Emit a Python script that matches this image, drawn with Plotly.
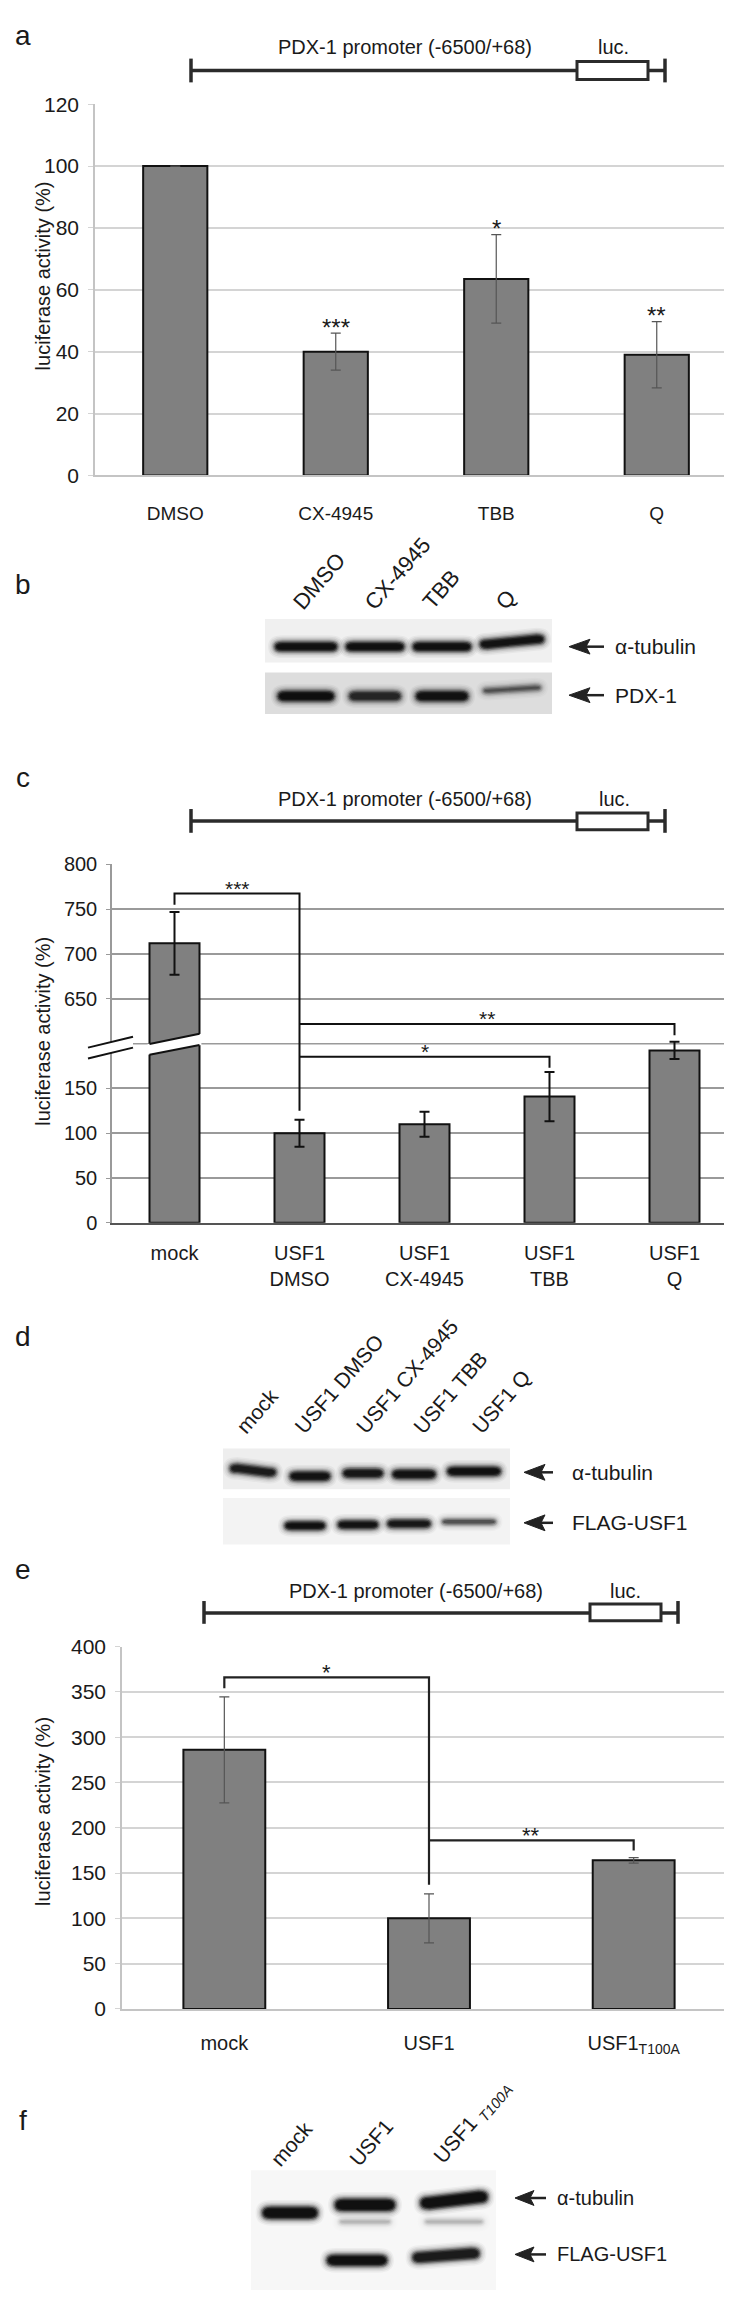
import math
import plotly.graph_objects as go

W, H = 732, 2300
def px(x): return x / W
def py(y): return 1 - y / H

# ---------------- data ----------------
a_cats = ["DMSO", "CX-4945", "TBB", "Q"]
a_vals = [100, 40, 63.5, 39]
a_errs = [None, 6, 14.3, 10.7]
a_sig = ["", "***", "*", "**"]
a_yticks = [0, 20, 40, 60, 80, 100, 120]

c_cats = ["mock", "USF1<br>DMSO", "USF1<br>CX-4945", "USF1<br>TBB", "USF1<br>Q"]
c_vals = [712, 100, 110, 141, 192.5]
c_errs = [35, 15, 14, 27.5, 9.5]
c_tickvals = [0, 50, 100, 150, 250, 300, 350, 400]
c_ticktext = ["0", "50", "100", "150", "650", "700", "750", "800"]
c_break_at = 200          # axis position of the break line
c_break_shift = 400       # values above the break are drawn shifted down by this amount
# brackets: (left idx, right idx, top, left end, right end, label)   [axis units]
c_brackets = [(0, 1, 367.6, 355, 125, "***"),
              (1, 4, 222, 222, 209.5, "**"),
              (1, 3, 185.4, 185.4, 173, "*")]

e_cats = ["mock", "USF1", "USF1<sub>T100A</sub>"]
e_vals = [286, 100, 164]
e_errs = [58.5, 27, 3]
e_yticks = [0, 50, 100, 150, 200, 250, 300, 350, 400]
e_brackets = [(0, 1, 366, 354, 137, "*"),
              (1, 2, 186, 186, 175, "**")]

# western blots: lane labels and band intensities (0..1)
b_lanes = ["DMSO", "CX-4945", "TBB", "Q"]
b_tubulin = [1.0, 1.0, 1.0, 0.95]
b_pdx1 = [1.0, 0.72, 0.95, 0.45]
d_lanes = ["mock", "USF1 DMSO", "USF1 CX-4945", "USF1 TBB", "USF1 Q"]
d_tubulin = [0.85, 0.95, 0.9, 0.95, 1.0]
d_flag = [0.0, 1.0, 0.95, 0.9, 0.6]
f_lanes = ["mock", "USF1", "USF1 <sub><i>T100A</i></sub>"]
f_tubulin = [1.0, 1.0, 1.0]
f_flag = [0.0, 1.0, 0.85]

def c_disp(v):
    return v - c_break_shift if v > 600 else v

FONT = "Liberation Sans, Arial, sans-serif"
NARROW = "Liberation Sans Narrow, Arial Narrow, Liberation Sans, sans-serif"
TXT = "#1a1a1a"

fig = go.Figure()
shapes = []
ann = []

# ---------------- panel a ----------------
fig.add_trace(go.Bar(x=a_cats, y=a_vals, width=0.4, xaxis="x", yaxis="y",
                     marker=dict(color="#808080", line=dict(color="#111", width=2)),
                     error_y=dict(type="data", array=a_errs, color="#555", thickness=1.2, width=5),
                     showlegend=False))
for i, s in enumerate(a_sig):
    if s:
        ann.append(dict(x=i, y=a_vals[i] + a_errs[i], xref="x", yref="y", text=s, showarrow=False,
                        yanchor="middle", yshift=6, font=dict(size=24, family=FONT, color=TXT)))

# ---------------- panel c ----------------
c_disp_vals = [c_disp(v) for v in c_vals]
shapes.append(dict(type="line", xref="x2 domain", yref="y2", layer="below",
                   x0=0, x1=1, y0=c_break_at, y1=c_break_at, line=dict(color="#9a9a9a", width=1.5)))
fig.add_trace(go.Bar(x=c_cats, y=c_disp_vals, width=0.4, xaxis="x2", yaxis="y2",
                     marker=dict(color="#808080", line=dict(color="#111", width=2)),
                     error_y=dict(type="data", array=c_errs, color="#111", thickness=2, width=5),
                     showlegend=False))
for (l, r, top, le, re_, lab) in c_brackets:
    fig.add_trace(go.Scatter(x=[c_cats[l], c_cats[l], c_cats[r], c_cats[r]], y=[le, top, top, re_],
                             mode="lines", line=dict(color="#111", width=2), xaxis="x2", yaxis="y2",
                             showlegend=False, hoverinfo="skip"))
    ann.append(dict(x=(l + r) / 2, y=top, xref="x2", yref="y2", text=lab, showarrow=False,
                    yanchor="middle", yshift=5, font=dict(size=21, family=FONT, color=TXT)))

# break on the mock bar (white gap)
def dpath(pts):
    return "M " + " L ".join(f"{x},{y}" for x, y in pts) + " Z"
shapes.append(dict(type="path", xref="x2", yref="y2", layer="above",
                   path=dpath([(-0.215, 187.6), (0.215, 198.6), (0.215, 211), (-0.215, 199.6)]),
                   fillcolor="white", line=dict(width=0)))
for y0, y1 in [(187.6, 198.6), (199.6, 211)]:
    shapes.append(dict(type="line", xref="x2", yref="y2", layer="above",
                       x0=-0.2, x1=0.2, y0=y0, y1=y1, line=dict(color="#111", width=2)))

# ---------------- panel e ----------------
fig.add_trace(go.Bar(x=e_cats, y=e_vals, width=0.4, xaxis="x3", yaxis="y3",
                     marker=dict(color="#808080", line=dict(color="#111", width=2)),
                     error_y=dict(type="data", array=e_errs, color="#555", thickness=1.2, width=5),
                     showlegend=False))
for (l, r, top, le, re_, lab) in e_brackets:
    fig.add_trace(go.Scatter(x=[e_cats[l], e_cats[l], e_cats[r], e_cats[r]], y=[le, top, top, re_],
                             mode="lines", line=dict(color="#222", width=2.2), xaxis="x3", yaxis="y3",
                             showlegend=False, hoverinfo="skip"))
    ann.append(dict(x=(l + r) / 2, y=top, xref="x3", yref="y3", text=lab, showarrow=False,
                    yanchor="middle", yshift=5, font=dict(size=22, family=FONT, color=TXT)))

# ---------------- helpers in pixel space ----------------
def P(pts, close=True):
    s = "M " + " L ".join(f"{px(x):.5f},{py(y):.5f}" for x, y in pts)
    return s + (" Z" if close else "")

def pline(x0, y0, x1, y1, w=3, color="#2b2b2b"):
    shapes.append(dict(type="line", xref="paper", yref="paper", layer="above",
                       x0=px(x0), y0=py(y0), x1=px(x1), y1=py(y1), line=dict(color=color, width=w)))

def prect(x0, y0, x1, y1, fill, lw=0, lc="#2b2b2b"):
    shapes.append(dict(type="rect", xref="paper", yref="paper", layer="above",
                       x0=px(x0), y0=py(y0), x1=px(x1), y1=py(y1), fillcolor=fill,
                       line=dict(color=lc, width=lw)))

def text(x, y, s, size=19, xanchor="center", angle=0, family=FONT):
    ann.append(dict(x=px(x), y=py(y), xref="paper", yref="paper", text=s, showarrow=False,
                    xanchor=xanchor, yanchor="middle", textangle=angle,
                    font=dict(size=size, family=family, color=TXT)))

CW = {"D": .722, "M": .833, "S": .667, "O": .778, "C": .722, "X": .667, "-": .333, "T": .611,
      "B": .667, "Q": .778, "U": .722, "F": .611, " ": .278, "m": .833, "o": .556, "c": .5,
      "k": .5, "1": .556, "4": .556, "9": .556, "5": .556, "0": .556, "A": .667}

def slanted(x_end, y_end, s, size, ang=49, plain=None):
    """label rising to the upper right, starting (bottom-left) at x_end, y_end"""
    L = sum(CW.get(ch, .556) for ch in (plain or s)) * size
    t = math.radians(ang)
    cx = x_end + L / 2 * math.cos(t) - 0.3 * size * math.sin(t)
    cy = y_end - L / 2 * math.sin(t) - 0.3 * size * math.cos(t)
    text(cx, cy, s, size=size, angle=-ang)

def promoter(x0, x1, bx0, bx1, yl, yt0, yt1, yb0, yb1, tx, lx, ty):
    pline(x0, yl, x1, yl, w=3.5)
    pline(x0, yt0, x0, yt1, w=3.5)
    pline(x1, yt0, x1, yt1, w=3.5)
    prect(bx0, yb0, bx1, yb1, "white", lw=3)
    text(tx, ty, "PDX-1 promoter (-6500/+68)", size=20)
    text(lx, ty, "luc.", size=20)

def band(xc, yc, w, h, inten, tilt=0):
    if inten <= 0:
        return
    for grow, op in [(12, 0.04), (9, 0.06), (6, 0.09), (3.5, 0.15), (1.5, 0.25),
                     (-1, 0.42), (-3.5, 0.55), (-6, 0.5)]:
        ww, hh = w + grow, h + grow
        if hh <= 1.5 or ww <= 4:
            continue
        x0, x1 = xc - ww / 2, xc + ww / 2
        yl, yr = yc + tilt / 2, yc - tilt / 2
        r = min(hh / 2 + 3, ww / 4)
        path = (f"M {px(x0 + r):.5f},{py(yl - hh / 2):.5f} "
                f"L {px(x1 - r):.5f},{py(yr - hh / 2):.5f} "
                f"Q {px(x1):.5f},{py(yr - hh / 2):.5f} {px(x1):.5f},{py(yr):.5f} "
                f"Q {px(x1):.5f},{py(yr + hh / 2):.5f} {px(x1 - r):.5f},{py(yr + hh / 2):.5f} "
                f"L {px(x0 + r):.5f},{py(yl + hh / 2):.5f} "
                f"Q {px(x0):.5f},{py(yl + hh / 2):.5f} {px(x0):.5f},{py(yl):.5f} "
                f"Q {px(x0):.5f},{py(yl - hh / 2):.5f} {px(x0 + r):.5f},{py(yl - hh / 2):.5f} Z")
        shapes.append(dict(type="path", xref="paper", yref="paper", layer="above", path=path,
                           fillcolor=f"rgba(0,0,0,{op * inten:.3f})", line=dict(width=0)))

def arrow(tip, back, tail, y, half=7.5, w=2.5):
    pline(back - 4, y, tail, y, w=w, color="#222")
    shapes.append(dict(type="path", xref="paper", yref="paper", layer="above",
                       path=P([(tip, y), (back, y - half), (back - 4, y), (back, y + half)]),
                       fillcolor="#222", line=dict(color="#222", width=1)))

# panel letters
for lab, y in [("a", 16), ("b", 570), ("c", 765), ("d", 1330), ("e", 1565), ("f", 2122)]:
    text(15, y, lab, size=28, xanchor="center")

# promoter diagrams
promoter(183, 657, 569, 640, 51, 39, 63, 42, 60, 397, 605, 27)
promoter(183, 657, 569, 640, 809, 797, 821, 801, 818, 397, 606, 787)
promoter(196, 670, 582, 653, 1609, 1597, 1620, 1600, 1617, 408, 617, 1587)

# y-axis titles
for y in [259, 1022, 1810]:
    text(35, y, "luciferase activity (%)", size=20, angle=-90)

# axis break marks on panel c y axis
shapes.append(dict(type="path", xref="paper", yref="paper", layer="above",
                   path=P([(80, 1038), (125, 1027), (125, 1038), (80, 1049)]),
                   fillcolor="white", line=dict(width=0)))
pline(80, 1038, 125, 1027, w=2, color="#111")
pline(80, 1049, 125, 1038, w=2, color="#111")

# ---------------- blot b ----------------
prect(257, 605, 544, 649, "#f0f0f0")
prect(257, 659, 544, 701, "#dddddd")
b_x = [298, 367, 434, 504]
b_w = [64, 60, 60, 66]
b_ends = [(294, 596), (366, 596), (424, 596), (497, 596)]
for i, lab in enumerate(b_lanes):
    slanted(b_ends[i][0], b_ends[i][1], lab, 22)
    band(b_x[i], 633 if i < 3 else 628, b_w[i], 11, b_tubulin[i], tilt=0 if i < 3 else 5)
    band(b_x[i], 683 if i < 3 else 676, b_w[i] - 6, 12 if i != 3 else 8, b_pdx1[i], tilt=0 if i < 3 else 3)
arrow(561, 582, 596, 633)
arrow(561, 582, 596, 682)
text(605, 633, "α-tubulin", size=21, xanchor="left")
text(605, 682, "PDX-1", size=21, xanchor="left")

# ---------------- blot d ----------------
prect(215, 1443, 502, 1484, "#eeeeee")
prect(215, 1493, 502, 1540, "#f3f3f3")
d_x = [245, 302, 355, 406, 466]
d_w = [48, 42, 42, 45, 55]
d_top_y = [1465, 1471, 1468, 1469, 1466]
d_bot_y = [1521, 1521, 1520, 1519, 1517]
d_ends = [(238, 1428), (296, 1428), (357, 1428), (414, 1428), (473, 1428)]
for i, lab in enumerate(d_lanes):
    slanted(d_ends[i][0], d_ends[i][1], lab, 21)
    band(d_x[i], d_top_y[i], d_w[i], 11, d_tubulin[i], tilt=-4 if i == 0 else 0)
    band(d_x[i] - 5, d_bot_y[i], d_w[i], 10 if i < 4 else 7, d_flag[i])
arrow(516, 537, 545, 1467, half=8)
arrow(516, 537, 545, 1518, half=8)
text(562, 1467, "α-tubulin", size=21, xanchor="left")
text(562, 1518, "FLAG-USF1", size=21, xanchor="left")

# ---------------- blot f ----------------
prect(243, 2172, 488, 2293, "#f7f7f7")
f_x = [282, 357, 446]
f_w = [57, 62, 69]
f_top_y = [2215, 2207, 2202]
f_bot_y = [2263, 2263, 2258]
f_ends = [(272, 2168), (350, 2168), (434, 2168)]
f_plain = ["mock", "USF1", "USF1 T100"]
for i, lab in enumerate(f_lanes):
    slanted(f_ends[i][0], f_ends[i][1], lab, 21, plain=f_plain[i])
    band(f_x[i], f_top_y[i], f_w[i], 14, f_tubulin[i], tilt=6 if i == 2 else 0)
    if i > 0:
        band(f_x[i], 2224, f_w[i] - 8, 8, 0.14)
    band(f_x[i] - 8, f_bot_y[i], f_w[i], 13, f_flag[i], tilt=4 if i == 2 else 0)
arrow(507, 526, 538, 2200)
arrow(507, 526, 538, 2257)
text(547, 2200, "α-tubulin", size=20, xanchor="left")
text(547, 2257, "FLAG-USF1", size=20, xanchor="left")

# ---------------- layout ----------------
light_grid = "#d4d4d4"
fig.update_layout(
    width=W, height=H, margin=dict(l=0, r=0, t=0, b=0, pad=0),
    paper_bgcolor="white", plot_bgcolor="rgba(0,0,0,0)",
    bargap=0.6, showlegend=False,
    xaxis=dict(domain=[px(87), px(729)], anchor="y", type="category", range=[-0.5, 3.5],
               showline=True, linecolor="#c4c4c4", linewidth=1.5, ticks="", showgrid=False,
               tickfont=dict(size=19, family=FONT, color=TXT), ticklabelstandoff=20),
    yaxis=dict(domain=[py(460), py(85)], anchor="x", range=[0, 120], tickvals=a_yticks,
               showgrid=True, gridcolor=light_grid, gridwidth=1.5, zeroline=False,
               showline=True, linecolor="#c4c4c4", linewidth=1.5, ticks="outside", ticklen=5,
               tickcolor=light_grid, tickfont=dict(size=21, family=NARROW, color=TXT),
               ticklabelstandoff=5),
    xaxis2=dict(domain=[px(104), px(729)], anchor="y2", type="category", range=[-0.5, 4.5],
                showline=True, linecolor="#555", linewidth=1.5, ticks="", showgrid=False,
                tickfont=dict(size=20, family=NARROW, color=TXT), ticklabelstandoff=11),
    yaxis2=dict(domain=[py(1215), py(853)], anchor="x2", range=[0, 400], tickvals=c_tickvals,
                ticktext=c_ticktext, showgrid=True, gridcolor="#9a9a9a", gridwidth=1.5,
                zeroline=False, showline=True, linecolor="#9a9a9a", linewidth=1.5,
                ticks="outside", ticklen=4, tickcolor="#9a9a9a",
                tickfont=dict(size=20, family=NARROW, color=TXT), ticklabelstandoff=5),
    xaxis3=dict(domain=[px(114), px(728)], anchor="y3", type="category", range=[-0.5, 2.5],
                showline=True, linecolor="#c4c4c4", linewidth=1.5, ticks="", showgrid=False,
                tickfont=dict(size=20, family=NARROW, color=TXT), ticklabelstandoff=15),
    yaxis3=dict(domain=[py(2009), py(1643)], anchor="x3", range=[0, 400], tickvals=e_yticks,
                showgrid=True, gridcolor=light_grid, gridwidth=1.5, zeroline=False,
                showline=True, linecolor="#c4c4c4", linewidth=1.5, ticks="outside", ticklen=5,
                tickcolor=light_grid, tickfont=dict(size=21, family=NARROW, color=TXT),
                ticklabelstandoff=5),
    shapes=shapes, annotations=ann,
)

fig.write_html("out.html")
